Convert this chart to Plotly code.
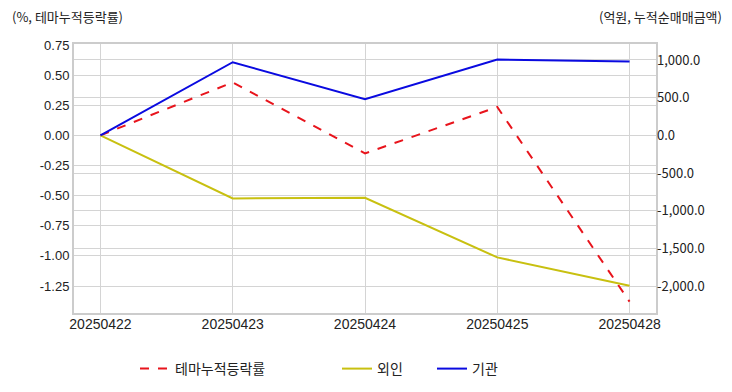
import plotly.graph_objects as go

dates = ["20250422", "20250423", "20250424", "20250425", "20250428"]
theme_rate = [0.0, 0.44, -0.15, 0.235, -1.38]
foreign = [0.0, -838.0, -830.0, -1620.0, -1995.0]
institution = [0.0, 970.0, 480.0, 1005.0, 980.0]

left_tickvals = [0.75, 0.5, 0.25, 0.0, -0.25, -0.5, -0.75, -1.0, -1.25]
left_ticktext = ["0.75", "0.50", "0.25", "0.00", "-0.25", "-0.50", "-0.75", "-1.00", "-1.25"]
right_tickvals = [1000, 500, 0, -500, -1000, -1500, -2000]
right_ticktext = ["1,000.0", "500.0", "0.0", "-500.0", "-1,000.0", "-1,500.0", "-2,000.0"]

grid = "#d4d4d4"
# page body has an 8px margin; figure is sized/offset to compensate
OFF = 8
L, T = 74 - OFF, 44 - OFF
PW, PH = 582, 269
W, H = 732 - OFF, 392 - OFF
kfont = "Noto Sans CJK KR, sans-serif"

fig = go.Figure()
fig.add_trace(go.Scatter(x=dates, y=theme_rate, name="테마누적등락률", mode="lines",
                         line=dict(color="#e8141c", width=2, dash="dash"), yaxis="y", legend="legend"))
fig.add_trace(go.Scatter(x=dates, y=foreign, name="외인", mode="lines",
                         line=dict(color="#c8c010", width=2), yaxis="y2", legend="legend2"))
fig.add_trace(go.Scatter(x=dates, y=institution, name="기관", mode="lines",
                         line=dict(color="#0a0ae0", width=2), yaxis="y2", legend="legend3"))

def leg(screen_x):
    fx = screen_x - OFF - 5
    return dict(orientation="h", x=(fx - L) / PW, xanchor="left", y=-(56 / PH), yanchor="middle",
                font=dict(family=kfont, size=14, color="#222"), itemwidth=30,
                bgcolor="rgba(0,0,0,0)", borderwidth=0)

tickfont = dict(family="Liberation Sans, Arial, sans-serif", size=13, color="#222")
fig.update_layout(
    width=W, height=H,
    margin=dict(l=L, r=W - L - PW, t=T, b=H - T - PH, autoexpand=False),
    paper_bgcolor="white", plot_bgcolor="white",
    showlegend=True,
    legend=leg(140), legend2=leg(342), legend3=leg(437),
    xaxis=dict(type="category", range=[-0.2, 4.2], showgrid=True, gridcolor=grid,
               showline=True, linecolor="#cccccc", linewidth=2, mirror=True,
               ticks="", tickfont=dict(family="Liberation Sans, Arial, sans-serif", size=14, color="#222"),
               ticklabelstandoff=-3, automargin=False),
    yaxis=dict(range=[-1.474, 0.758], tickvals=left_tickvals, ticktext=left_ticktext,
               showgrid=True, gridcolor=grid, zeroline=False,
               showline=True, linecolor="#cccccc", linewidth=2, mirror=True,
               ticks="", tickfont=tickfont, automargin=False),
    yaxis2=dict(range=[-2358, 1212], tickvals=right_tickvals, ticktext=right_ticktext,
                overlaying="y", side="right", showgrid=True, gridcolor=grid, zeroline=False,
                ticks="", tickfont=dict(family=kfont, size=13, color="#222"), automargin=False),
    annotations=[
        dict(text="(%, 테마누적등락률)", xref="paper", yref="paper", x=(10 - OFF - L) / PW, y=1 + 28 / PH,
             xanchor="left", yanchor="middle", showarrow=False,
             font=dict(family=kfont, size=13, color="#222")),
        dict(text="(억원, 누적순매매금액)", xref="paper", yref="paper", x=(724 - OFF - L) / PW, y=1 + 28 / PH,
             xanchor="right", yanchor="middle", showarrow=False,
             font=dict(family=kfont, size=13, color="#222")),
    ],
)
fig.write_html("out.html")
